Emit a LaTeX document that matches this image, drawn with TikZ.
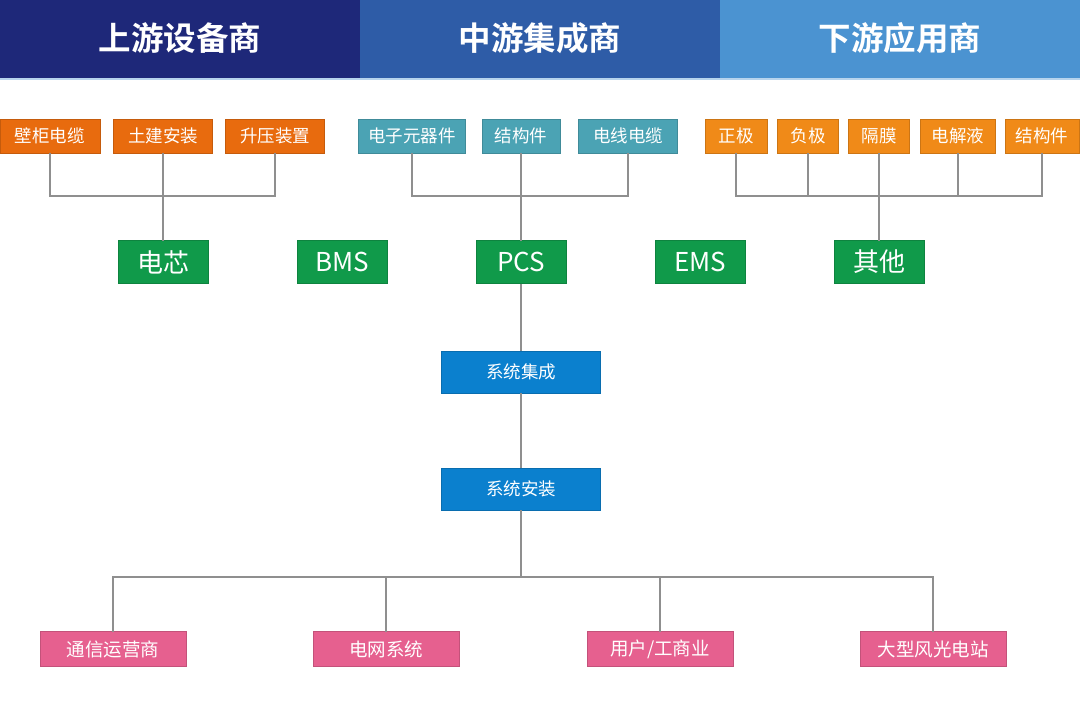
\documentclass[tikz,border=0pt]{standalone}
\usepackage{fontspec}
\setmainfont{Noto Sans CJK SC}
\newfontfamily\cjkbold{Noto Sans CJK SC Bold}
\definecolor{navy}{HTML}{1E2879}
\definecolor{midblue}{HTML}{2E5CA7}
\definecolor{lightblue}{HTML}{4B93D1}
\definecolor{orangeA}{HTML}{E86B0E}
\definecolor{orangeB}{HTML}{F08A18}
\definecolor{tealbox}{HTML}{4BA3B4}
\definecolor{greenbox}{HTML}{109A4A}
\definecolor{bluebox}{HTML}{0B80CE}
\definecolor{pinkbox}{HTML}{E6608F}
\definecolor{linegray}{HTML}{8F8F8F}
\begin{document}
\begin{tikzpicture}[x=1pt,y=-1pt,
  box/.style={inner sep=0pt,outer sep=0pt,text=white,line width=0.8pt,minimum height=34pt,font=\fontsize{17.5}{17.5}\selectfont},
  obA/.style={box,fill=orangeA,draw=orangeA!85!black},
  obB/.style={box,fill=orangeB,draw=orangeB!85!black},
  tb/.style={box,fill=tealbox,draw=tealbox!85!black},
  gb/.style={box,fill=greenbox,draw=greenbox!85!black,minimum width=90pt,minimum height=43pt,font=\fontsize{26}{26}\selectfont},
  bb/.style={box,fill=bluebox,draw=bluebox!85!black,minimum width=159pt,minimum height=42pt,font=\fontsize{17.5}{17.5}\selectfont},
  pb/.style={box,fill=pinkbox,draw=pinkbox!85!black,minimum width=146pt,minimum height=35pt,font=\fontsize{18.5}{18.5}\selectfont},
  conn/.style={draw=linegray,line width=2pt},
  head/.style={text=white,font=\cjkbold\fontsize{32.5}{32.5}\selectfont}]
\useasboundingbox (0,0) rectangle (1080,713);
\fill[white] (0,0) rectangle (1080,713);
% header
\fill[navy] (0,0) rectangle (360,78);
\fill[midblue] (360,0) rectangle (720,78);
\fill[lightblue] (720,0) rectangle (1080,78);
\fill[lightblue!40] (0,78) rectangle (1080,80);
\node[head] (h1) at (180,38) {上游设备商};
\node[head] (h2) at (540,38) {中游集成商};
\node[head] (h3) at (900,38) {下游应用商};
% connector junction coordinates
\coordinate (jy) at (0,196);
\coordinate (by) at (0,577);
% top row
\node[obA,minimum width=100pt] (a1) at (50,136) {壁柜电缆};
\node[obA,minimum width=99pt] (a2) at (163,136) {土建安装};
\node[obA,minimum width=99pt] (a3) at (275,136) {升压装置};
\node[tb,minimum width=107pt] (m1) at (412,136) {电子元器件};
\node[tb,minimum width=78pt] (m2) at (521,136) {结构件};
\node[tb,minimum width=99pt] (m3) at (628,136) {电线电缆};
\node[obB,minimum width=62pt] (r1) at (736,136) {正极};
\node[obB,minimum width=61pt] (r2) at (808,136) {负极};
\node[obB,minimum width=61pt] (r3) at (879,136) {隔膜};
\node[obB,minimum width=75pt] (r4) at (958,136) {电解液};
\node[obB,minimum width=74pt] (r5) at (1042,136) {结构件};
% green row
\node[gb] (g1) at (163,262) {电芯};
\node[gb] (g2) at (342,262) {BMS};
\node[gb] (g3) at (521,262) {PCS};
\node[gb] (g4) at (700,262) {EMS};
\node[gb] (g5) at (879,262) {其他};
% blue
\node[bb] (s1) at (521,372) {系统集成};
\node[bb] (s2) at (521,489) {系统安装};
% pink
\node[pb] (p1) at (113,649) {通信运营商};
\node[pb] (p2) at (386,649) {电网系统};
\node[pb] (p3) at (660,649) {用户/工商业};
\node[pb] (p4) at (933,649) {大型风光电站};
% connectors
\draw[conn] (a1.south) -- (a1.south |- jy) -- (a3.south |- jy) -- (a3.south);
\draw[conn] (a2.south) -- (g1.north);
\draw[conn] (m1.south) -- (m1.south |- jy) -- (m3.south |- jy) -- (m3.south);
\draw[conn] (m2.south) -- (g3.north);
\draw[conn] (r1.south) -- (r1.south |- jy) -- (r5.south |- jy) -- (r5.south);
\draw[conn] (r2.south) -- (r2.south |- jy);
\draw[conn] (r4.south) -- (r4.south |- jy);
\draw[conn] (r3.south) -- (g5.north);
\draw[conn] (g3.south) -- (s1.north);
\draw[conn] (s1.south) -- (s2.north);
\draw[conn] (s2.south) -- (s2.south |- by);
\draw[conn] (p1.north) -- (p1.north |- by) -- (p4.north |- by) -- (p4.north);
\draw[conn] (p2.north) -- (p2.north |- by);
\draw[conn] (p3.north) -- (p3.north |- by);
\end{tikzpicture}
\end{document}
